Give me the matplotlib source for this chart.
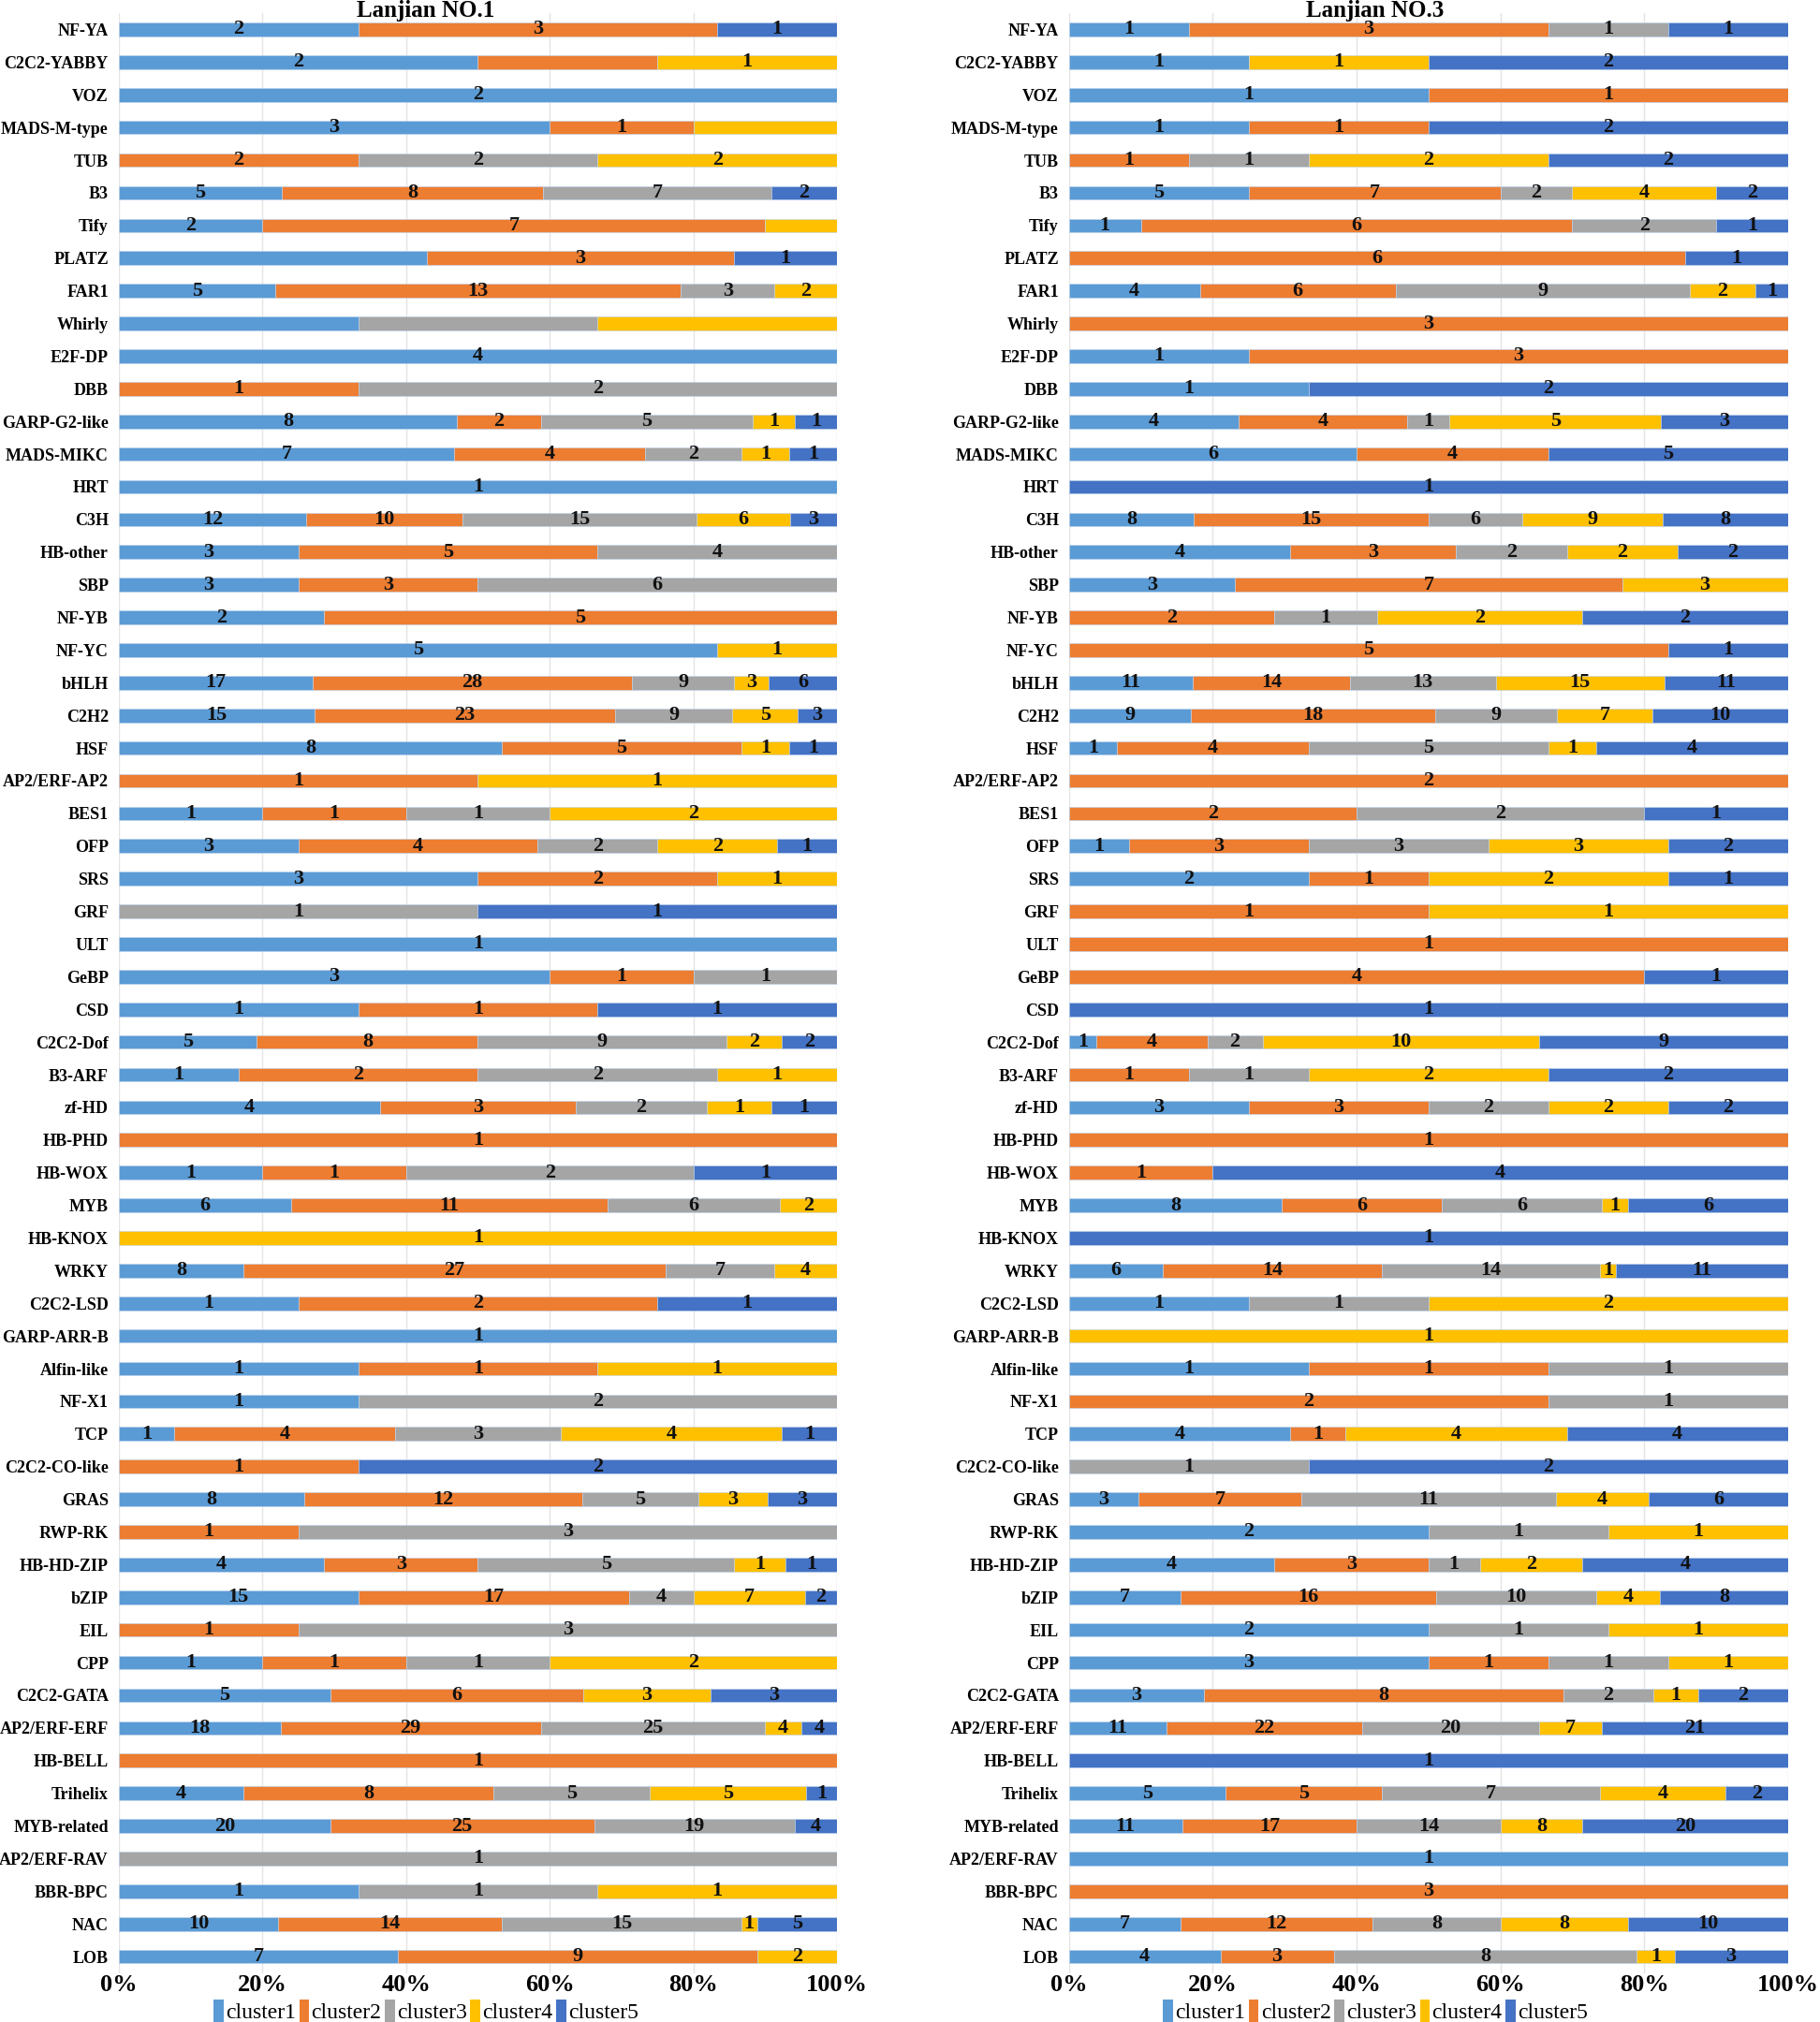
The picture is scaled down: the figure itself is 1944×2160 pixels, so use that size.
import matplotlib.pyplot as plt
import numpy as np
from matplotlib.patches import Patch

families = ["NF-YA", "C2C2-YABBY", "VOZ", "MADS-M-type", "TUB", "B3", "Tify", "PLATZ", "FAR1", "Whirly",
            "E2F-DP", "DBB", "GARP-G2-like", "MADS-MIKC", "HRT", "C3H", "HB-other", "SBP", "NF-YB", "NF-YC",
            "bHLH", "C2H2", "HSF", "AP2/ERF-AP2", "BES1", "OFP", "SRS", "GRF", "ULT", "GeBP",
            "CSD", "C2C2-Dof", "B3-ARF", "zf-HD", "HB-PHD", "HB-WOX", "MYB", "HB-KNOX", "WRKY", "C2C2-LSD",
            "GARP-ARR-B", "Alfin-like", "NF-X1", "TCP", "C2C2-CO-like", "GRAS", "RWP-RK", "HB-HD-ZIP", "bZIP", "EIL",
            "CPP", "C2C2-GATA", "AP2/ERF-ERF", "HB-BELL", "Trihelix", "MYB-related", "AP2/ERF-RAV", "BBR-BPC", "NAC", "LOB"]
clusters = ["cluster1", "cluster2", "cluster3", "cluster4", "cluster5"]
colors = ["#5B9BD5", "#ED7D31", "#A5A5A5", "#FFC000", "#4472C4"]

# Lanjian NO.1
no1_c1 = [2, 2, 2, 3, 0, 5, 2, 3, 5, 1, 4, 0, 8, 7, 1, 12, 3, 3, 2, 5,
          17, 15, 8, 0, 1, 3, 3, 0, 1, 3, 1, 5, 1, 4, 0, 1, 6, 0, 8, 1,
          1, 1, 1, 1, 0, 8, 0, 4, 15, 0, 1, 5, 18, 0, 4, 20, 0, 1, 10, 7]
no1_c2 = [3, 1, 0, 1, 2, 8, 7, 3, 13, 0, 0, 1, 2, 4, 0, 10, 5, 3, 5, 0,
          28, 23, 5, 1, 1, 4, 2, 0, 0, 1, 1, 8, 2, 3, 1, 1, 11, 0, 27, 2,
          0, 1, 0, 4, 1, 12, 1, 3, 17, 1, 1, 6, 29, 1, 8, 25, 0, 0, 14, 9]
no1_c3 = [0, 0, 0, 0, 2, 7, 0, 0, 3, 1, 0, 2, 5, 2, 0, 15, 4, 6, 0, 0,
          9, 9, 0, 0, 1, 2, 0, 1, 0, 1, 0, 9, 2, 2, 0, 2, 6, 0, 7, 0,
          0, 0, 2, 3, 0, 5, 3, 5, 4, 3, 1, 0, 25, 0, 5, 19, 1, 1, 15, 0]
no1_c4 = [0, 1, 0, 1, 2, 0, 1, 0, 2, 1, 0, 0, 1, 1, 0, 6, 0, 0, 0, 1,
          3, 5, 1, 1, 2, 2, 1, 0, 0, 0, 0, 2, 1, 1, 0, 0, 2, 1, 4, 0,
          0, 1, 0, 4, 0, 3, 0, 1, 7, 0, 2, 3, 4, 0, 5, 0, 0, 1, 1, 2]
no1_c5 = [1, 0, 0, 0, 0, 2, 0, 1, 0, 0, 0, 0, 1, 1, 0, 3, 0, 0, 0, 0,
          6, 3, 1, 0, 0, 1, 0, 1, 0, 0, 1, 2, 0, 1, 0, 1, 0, 0, 0, 1,
          0, 0, 0, 1, 2, 3, 0, 1, 2, 0, 0, 3, 4, 0, 1, 4, 0, 0, 5, 0]
# segments that carry no number in the original
no1_hidden = {("C2C2-YABBY", 1), ("MADS-M-type", 3), ("Tify", 3), ("PLATZ", 0),
              ("Whirly", 0), ("Whirly", 2), ("Whirly", 3)}

# Lanjian NO.3
no3_c1 = [1, 1, 1, 1, 0, 5, 1, 0, 4, 0, 1, 1, 4, 6, 0, 8, 4, 3, 0, 0,
          11, 9, 1, 0, 0, 1, 2, 0, 0, 0, 0, 1, 0, 3, 0, 0, 8, 0, 6, 1,
          0, 1, 0, 4, 0, 3, 2, 4, 7, 2, 3, 3, 11, 0, 5, 11, 1, 0, 7, 4]
no3_c2 = [3, 0, 1, 1, 1, 7, 6, 6, 6, 3, 3, 0, 4, 4, 0, 15, 3, 7, 2, 5,
          14, 18, 4, 2, 2, 3, 1, 1, 1, 4, 0, 4, 1, 3, 1, 1, 6, 0, 14, 0,
          0, 1, 2, 1, 0, 7, 0, 3, 16, 0, 1, 8, 22, 0, 5, 17, 0, 3, 12, 3]
no3_c3 = [1, 0, 0, 0, 1, 2, 2, 0, 9, 0, 0, 0, 1, 0, 0, 6, 2, 0, 1, 0,
          13, 9, 5, 0, 2, 3, 0, 0, 0, 0, 0, 2, 1, 2, 0, 0, 6, 0, 14, 1,
          0, 1, 1, 0, 1, 11, 1, 1, 10, 1, 1, 2, 20, 0, 7, 14, 0, 0, 8, 8]
no3_c4 = [0, 1, 0, 0, 2, 4, 0, 0, 2, 0, 0, 0, 5, 0, 0, 9, 2, 3, 2, 0,
          15, 7, 1, 0, 0, 3, 2, 1, 0, 0, 0, 10, 2, 2, 0, 0, 1, 0, 1, 2,
          1, 0, 0, 4, 0, 4, 1, 2, 4, 1, 1, 1, 7, 0, 4, 8, 0, 0, 8, 1]
no3_c5 = [1, 2, 0, 2, 2, 2, 1, 1, 1, 0, 0, 2, 3, 5, 1, 8, 2, 0, 2, 1,
          11, 10, 4, 0, 1, 2, 1, 0, 0, 1, 1, 9, 2, 2, 0, 4, 6, 1, 11, 0,
          0, 0, 0, 4, 2, 6, 0, 4, 8, 0, 0, 2, 21, 1, 2, 20, 0, 0, 10, 3]
no3_hidden = set()

plt.rcParams['font.family'] = ['Liberation Serif', 'DejaVu Serif']
plt.rcParams['font.weight'] = 'bold'

fig = plt.figure(figsize=(19.44, 21.6), dpi=100)


def draw_panel(rect, series, title, hidden, title_x):
    ax = fig.add_axes(rect)
    data = np.array(series, dtype=float)
    share = data / data.sum(axis=0) * 100
    y = np.arange(len(families))
    left = np.zeros(len(families))
    for k in range(len(clusters)):
        ax.barh(y, share[k], left=left, height=0.42, color=colors[k], label=clusters[k],
                edgecolor='#BFD4EE', linewidth=0.4, zorder=2)
        for i in range(len(families)):
            if data[k, i] > 0 and (families[i], k) not in hidden:
                ax.text(left[i] + share[k, i] / 2, y[i], str(int(data[k, i])), ha='center', va='center',
                        fontsize=16, fontweight='bold', color='#111111', zorder=3)
        left += share[k]
    ax.set_xlim(0, 100)
    ax.set_ylim(len(families) - 0.5, -0.5)
    ax.set_yticks(y)
    ax.set_yticklabels(families, fontsize=13, fontweight='bold')
    ax.set_xticks(np.arange(0, 101, 20))
    ax.set_xticklabels([f"{v}%" for v in range(0, 101, 20)], fontsize=19, fontweight='bold')
    ax.tick_params(axis='y', length=0, pad=8)
    ax.tick_params(axis='x', length=0, pad=1)
    ax.grid(axis='x', color='#E4E4E4', linewidth=1, zorder=0)
    ax.set_axisbelow(True)
    for s in ax.spines.values():
        s.set_visible(False)
    fig.text(title_x, 0.9949, title, ha='center', va='center', fontsize=18, fontweight='bold')
    handles = [Patch(facecolor=c, label=l) for c, l in zip(colors, clusters)]
    fig.legend(handles=handles, loc='center', bbox_to_anchor=(title_x, 0.0055), ncol=5, frameon=False,
               handlelength=0.45, handleheight=1.2, handletextpad=0.1, columnspacing=0.15,
               prop={'size': 17, 'weight': 'normal'})
    return ax


draw_panel([0.0653, 0.0243, 0.3946, 0.9692], [no1_c1, no1_c2, no1_c3, no1_c4, no1_c5],
           "Lanjian NO.1", no1_hidden, 0.234)
draw_panel([0.5874, 0.0243, 0.3950, 0.9692], [no3_c1, no3_c2, no3_c3, no3_c4, no3_c5],
           "Lanjian NO.3", no3_hidden, 0.7557)

fig.savefig("out.png", dpi=100)
